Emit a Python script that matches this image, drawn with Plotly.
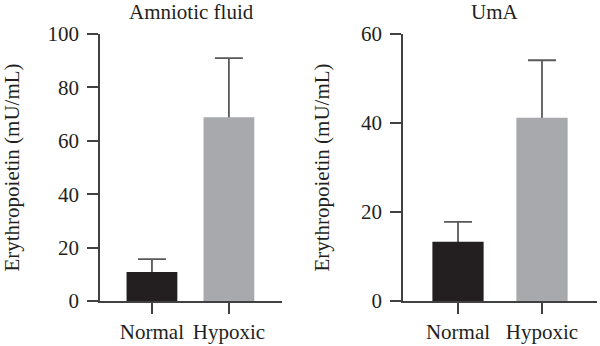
import plotly.graph_objects as go

categories = ["Normal", "Hypoxic"]
amniotic_values = [10.9, 68.8]
amniotic_errors = [4.8, 22.2]
uma_values = [13.3, 41.2]
uma_errors = [4.5, 12.9]
panel_titles = ["Amniotic fluid", "UmA"]
y_title = "Erythropoietin (mU/mL)"
amniotic_ticks = [0, 20, 40, 60, 80, 100]
uma_ticks = [0, 20, 40, 60]

bar_colors = ["#231f20", "#a7a9ac"]
err_color = "#58595b"
axis_color = "#414042"
text_color = "#231f20"
font_family = "Liberation Serif"
fs = 21

fig = go.Figure()

# error bars on the base subplots (drawn underneath the bars of the overlay subplots)
for vals, errs, xa, ya in [(amniotic_values, amniotic_errors, "x", "y"),
                           (uma_values, uma_errors, "x2", "y2")]:
    fig.add_trace(go.Scatter(
        x=categories, y=vals, mode="markers", marker=dict(size=1, opacity=0),
        error_y=dict(type="data", array=errs, arrayminus=vals, symmetric=False,
                     color=err_color, thickness=1.8, width=14),
        xaxis=xa, yaxis=ya, showlegend=False, hoverinfo="skip"))

fig.add_trace(go.Bar(
    x=categories, y=amniotic_values, marker=dict(color=bar_colors, line=dict(width=0)),
    width=0.66, xaxis="x3", yaxis="y3", showlegend=False))
fig.add_trace(go.Bar(
    x=categories, y=uma_values, marker=dict(color=bar_colors, line=dict(width=0)),
    width=0.61, xaxis="x4", yaxis="y4", showlegend=False))

W, H = 600, 346
ydom = [(H - 301) / H, (H - 34) / H]

common_axis = dict(showline=True, linecolor=axis_color, linewidth=1.6, ticks="outside",
                   ticklen=11, tickwidth=1.6, tickcolor=axis_color, showgrid=False,
                   zeroline=False, automargin=False,
                   tickfont=dict(family=font_family, size=fs, color=text_color))
ytitle = dict(text=y_title, font=dict(family=font_family, size=fs, color=text_color), standoff=26)

xr1 = [-0.675, 1.69]
xr2 = [-0.655, 1.655]

fig.update_layout(
    width=W, height=H, margin=dict(l=0, r=0, t=0, b=0, autoexpand=False),
    plot_bgcolor="white", paper_bgcolor="white",
    xaxis=dict(domain=[100 / W, 282 / W], anchor="y", type="category",
               range=xr1, ticklabelstandoff=0, **common_axis),
    yaxis=dict(domain=ydom, anchor="x", range=[0, 100], tickvals=amniotic_ticks,
               ticklabelstandoff=4, title=ytitle, **common_axis),
    xaxis2=dict(domain=[403 / W, 597 / W], anchor="y2", type="category",
                range=xr2, ticklabelstandoff=0, **common_axis),
    yaxis2=dict(domain=ydom, anchor="x2", range=[0, 60], tickvals=uma_ticks,
                ticklabelstandoff=4, title=ytitle, **common_axis),
    xaxis3=dict(overlaying="x", anchor="y3", type="category", range=xr1, visible=False, automargin=False),
    yaxis3=dict(overlaying="y", anchor="x3", range=[0, 100], visible=False, automargin=False),
    xaxis4=dict(overlaying="x2", anchor="y4", type="category", range=xr2, visible=False, automargin=False),
    yaxis4=dict(overlaying="y2", anchor="x4", range=[0, 60], visible=False, automargin=False),
    annotations=[
        dict(text=panel_titles[0], x=191 / W, y=1 - 12 / H, xref="paper", yref="paper",
             showarrow=False, xanchor="center", yanchor="middle",
             font=dict(family=font_family, size=fs, color=text_color)),
        dict(text=panel_titles[1], x=495 / W, y=1 - 12 / H, xref="paper", yref="paper",
             showarrow=False, xanchor="center", yanchor="middle",
             font=dict(family=font_family, size=fs, color=text_color)),
    ],
)

fig.write_html("out.html")
